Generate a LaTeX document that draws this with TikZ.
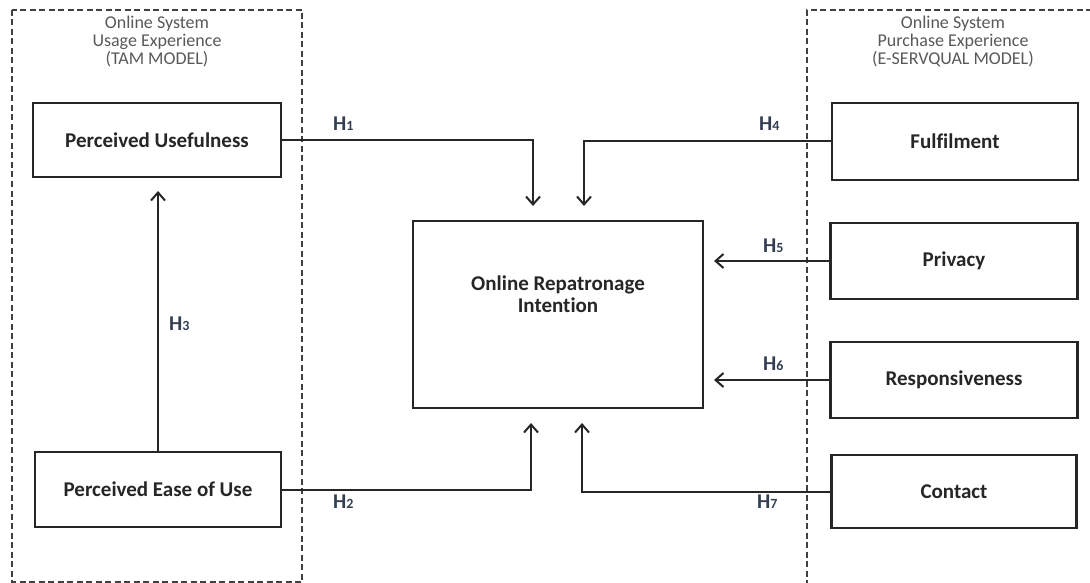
\documentclass[tikz,border=0pt]{standalone}
\usepackage{fontspec}
\setmainfont{Carlito}[Ligatures=NoCommon]
\usetikzlibrary{arrows.meta}
\definecolor{boxtext}{HTML}{262626}
\definecolor{headtext}{HTML}{595959}
\definecolor{htext}{HTML}{333F50}
\tikzset{
  x=1pt, y=-1pt,
  varbox/.style={draw=black!85, line width=2.2pt, text=boxtext, font=\fontsize{21}{24}\selectfont\bfseries, inner sep=0pt, align=center},
  grp/.style={draw=black!75, line width=1.1pt, dash pattern=on 6pt off 3.5pt},
  conn/.style={draw=black!85, line width=2pt, -{Straight Barb[length=8pt,width=14pt,line width=2pt]}},
  hlab/.style={text=htext, font=\fontsize{21}{22}\selectfont\bfseries, anchor=base west, inner sep=0pt},
  head/.style={text=headtext, font=\fontsize{18}{18}\selectfont, align=center},
}
\newcommand{\hh}[1]{H{\fontsize{14}{14}\selectfont #1}}
\begin{document}
\begin{tikzpicture}
\useasboundingbox (0,0) rectangle (1090,583);
\fill[white] (0,0) rectangle (1090,583);
% groups
\draw[grp] (12,10) rectangle (302,582);
\draw[grp] (1092,10) -- (807,10) -- (807,585);
\node[head] (hl) at (157,42) {Online System\\Usage Experience\\(TAM MODEL)};
\node[head] (hr) at (953,42) {Online System\\Purchase Experience\\(E-SERVQUAL MODEL)};
% boxes
\node[varbox, minimum width=248pt, minimum height=74pt] (pu) at (157,140) {Perceived Usefulness};
\node[varbox, minimum width=246pt, minimum height=75pt] (peu) at (158,489.5) {Perceived Ease of Use};
\node[varbox, minimum width=246pt, minimum height=77pt] (ful) at (955,141.5) {Fulfilment};
\node[varbox, minimum width=247pt, minimum height=76pt] (pri) at (954,261) {Privacy};
\node[varbox, minimum width=247pt, minimum height=76pt] (res) at (954,380) {Responsiveness};
\node[varbox, minimum width=245pt, minimum height=73pt] (con) at (954,491.5) {Contact};
\node[varbox, minimum width=290pt, minimum height=187pt] (ori) at (558,314.5) {};
\node[text=boxtext, font=\fontsize{21}{22}\selectfont\bfseries, align=center] (orit) at (558,294) {Online Repatronage\\Intention};
% arrow ends
\coordinate (t1) at (533,206);
\coordinate (t4) at (584,206);
\coordinate (t5) at (714,261);
\coordinate (t6) at (714,378);
\coordinate (t2) at (531,423);
\coordinate (t7) at (582,423);
\coordinate (t3) at (158,191);
% connectors
\draw[conn] (pu.east) -| (t1);
\draw[conn] (ful.west) -| (t4);
\draw[conn] (pri.west) -- (t5);
\draw[conn] (res.west) -- (t6 |- res.west);
\draw[conn] (peu.east) -| (t2);
\draw[conn] (con.west) -| (t7);
\draw[conn] (peu.north) -- (t3);
% labels
\node[hlab] (l1) at (333,131) {\hh{1}};
\node[hlab] (l4) at (759,131) {\hh{4}};
\node[hlab] (l5) at (763,252) {\hh{5}};
\node[hlab] (l6) at (763,370) {\hh{6}};
\node[hlab] (l2) at (333,508) {\hh{2}};
\node[hlab] (l7) at (757,508) {\hh{7}};
\node[hlab] (l3) at (169,330) {\hh{3}};
\end{tikzpicture}
\end{document}
